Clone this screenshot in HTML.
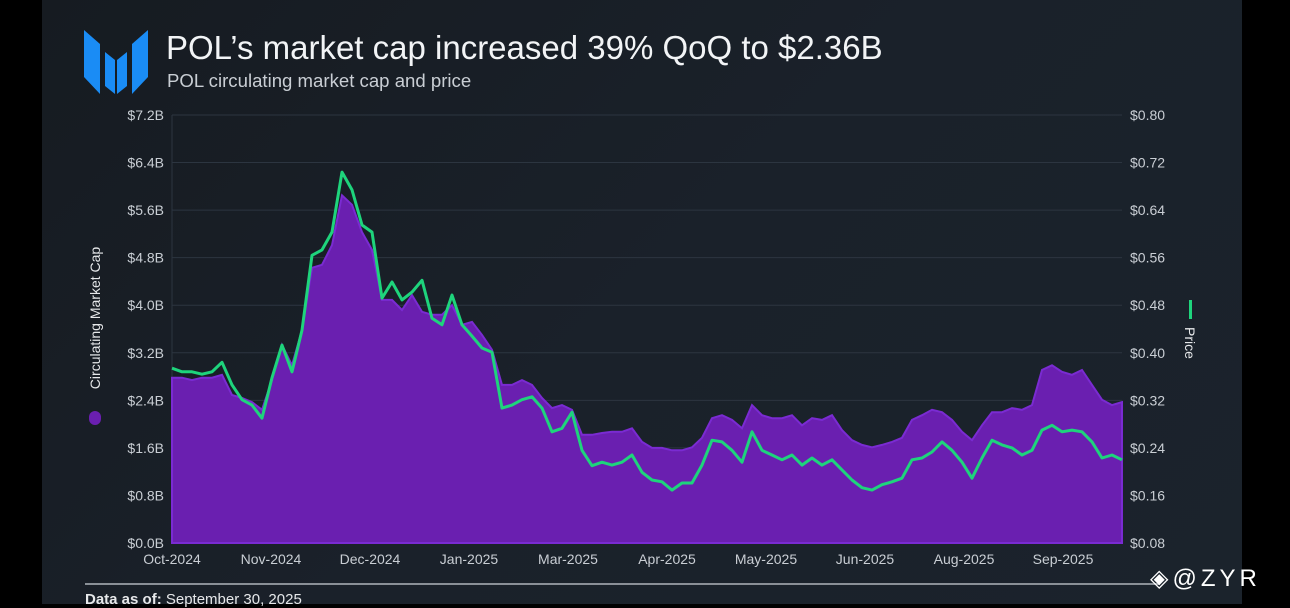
<!DOCTYPE html>
<html><head><meta charset="utf-8">
<style>
html,body{margin:0;padding:0;width:1290px;height:604px;overflow:hidden;background:#000;font-family:"Liberation Sans",sans-serif;}
#panel{position:absolute;left:42px;top:0;width:1200px;height:604px;background:linear-gradient(135deg,#161b21 0%,#1a212a 50%,#1b232c 100%);}
.t{position:absolute;white-space:nowrap;}
</style></head><body>
<div id="panel"></div>
<svg style="position:absolute;left:84px;top:30px" width="66" height="64" viewBox="0 0 66 64">
<polygon points="0,0 16,14 16,64 0,47" fill="#1a8cf5"/>
<polygon points="21,22 31,30 31,64 21,56" fill="#1a8cf5"/>
<polygon points="33,30 43,22 43,56 33,64" fill="#1a8cf5"/>
<polygon points="48,14 64,0 64,47 48,64" fill="#1a8cf5"/>
</svg>
<div class="t" style="left:166px;top:29px;font-size:33px;color:#f2f4f6;">POL’s market cap increased 39% QoQ to $2.36B</div>
<div class="t" style="left:167px;top:70px;font-size:18.6px;color:#c9ced4;">POL circulating market cap and price</div>
<svg id="chart" style="position:absolute;left:0;top:0" width="1290" height="604"></svg>
<div style="position:absolute;left:85px;top:583px;width:1075px;height:2px;background:#8a9097"></div>
<div class="t" style="left:85px;top:591px;font-size:15px;color:#e6e8ea;"><b>Data as of:</b> September 30, 2025</div>
<div class="t" style="left:1150px;top:564px;font-size:24px;color:#fff;letter-spacing:4px;">◈@ZYR</div>
<script>
const months=["Oct-2024","Nov-2024","Dec-2024","Jan-2025","Mar-2025","Apr-2025","May-2025","Jun-2025","Aug-2025","Sep-2025"];
const leftTicks=["$0.0B","$0.8B","$1.6B","$2.4B","$3.2B","$4.0B","$4.8B","$5.6B","$6.4B","$7.2B"];
const rightTicks=["$0.08","$0.16","$0.24","$0.32","$0.40","$0.48","$0.56","$0.64","$0.72","$0.80"];
const mcap=[2.78,2.78,2.74,2.78,2.78,2.83,2.49,2.44,2.37,2.24,2.74,3.33,2.99,3.58,4.63,4.68,5.01,5.85,5.69,5.23,4.93,4.09,4.09,3.92,4.17,3.89,3.84,3.84,4.00,3.67,3.72,3.50,3.25,2.66,2.66,2.74,2.66,2.44,2.27,2.32,2.24,1.82,1.82,1.85,1.87,1.87,1.93,1.70,1.60,1.60,1.56,1.56,1.61,1.77,2.10,2.15,2.07,1.93,2.32,2.15,2.10,2.10,2.15,1.98,2.10,2.07,2.15,1.90,1.73,1.65,1.61,1.65,1.70,1.77,2.07,2.15,2.24,2.20,2.07,1.87,1.73,1.98,2.20,2.20,2.27,2.24,2.32,2.91,2.99,2.88,2.83,2.91,2.66,2.41,2.32,2.37];
const price=[0.374,0.368,0.368,0.364,0.368,0.384,0.346,0.321,0.312,0.290,0.358,0.413,0.368,0.438,0.564,0.573,0.603,0.704,0.674,0.615,0.603,0.492,0.519,0.489,0.502,0.522,0.458,0.447,0.497,0.447,0.428,0.408,0.401,0.307,0.312,0.321,0.326,0.307,0.267,0.273,0.300,0.236,0.210,0.216,0.211,0.216,0.228,0.199,0.186,0.183,0.169,0.181,0.181,0.211,0.253,0.250,0.236,0.216,0.267,0.236,0.228,0.220,0.228,0.211,0.223,0.211,0.220,0.203,0.186,0.173,0.169,0.178,0.183,0.189,0.220,0.223,0.233,0.250,0.236,0.216,0.189,0.223,0.253,0.245,0.240,0.228,0.236,0.270,0.278,0.267,0.270,0.267,0.250,0.223,0.228,0.220];
const NS="http://www.w3.org/2000/svg";
const svg=document.getElementById('chart');
const X0=172,X1=1122,Y0=543,Y1=115;
const xs=i=>X0+(X1-X0)*i/(mcap.length-1);
const yL=v=>Y0-(v/7.2)*(Y0-Y1);
const yR=v=>Y0-((v-0.08)/0.72)*(Y0-Y1);
function mk(tag,attrs){const e=document.createElementNS(NS,tag);for(const k in attrs)e.setAttribute(k,attrs[k]);svg.appendChild(e);return e;}
leftTicks.forEach((t,i)=>{
  const y=Y0-(Y0-Y1)*i/(leftTicks.length-1);
  const g=mk('line',{x1:X0,x2:X1,y1:y,y2:y,stroke:'#2c3540','stroke-width':1});
  
  
  const tl=mk('text',{x:164,y:y+5,'text-anchor':'end',fill:'#c9ced4','font-size':14,'font-family':'Liberation Sans, sans-serif'});
  tl.textContent=t;
  
  
  const tr=mk('text',{x:1130,y:y+5,fill:'#c9ced4','font-size':14,'font-family':'Liberation Sans, sans-serif'});
  tr.textContent=rightTicks[i];
  
  
});
const ax=mk('line',{x1:X0,x2:X0,y1:Y1,y2:Y0,stroke:'#2c3540'});


months.forEach((m,i)=>{
  const t=mk('text',{x:X0+99*i,y:564,'text-anchor':'middle',fill:'#c9ced4','font-size':14,'font-family':'Liberation Sans, sans-serif'});
  t.textContent=m;
  
  
});
let d='M'+X0+','+Y0;
mcap.forEach((v,i)=>{d+=' L'+xs(i).toFixed(1)+','+yL(v).toFixed(1);});
d+=' L'+X1+','+Y0+' Z';
const area=mk('path',{d:d,fill:'#6a1fb0',stroke:'#7a2bd2','stroke-width':2});


let pd='';
price.forEach((v,i)=>{pd+=(i?' L':'M')+xs(i).toFixed(1)+','+yR(v).toFixed(1);});
const line=mk('path',{d:pd,fill:'none',stroke:'#1ed47c','stroke-width':3,'stroke-linejoin':'round'});


const lt=mk('text',{x:0,y:0,transform:'translate(100,318) rotate(-90)','text-anchor':'middle',fill:'#e6e8ea','font-size':14,'font-family':'Liberation Sans, sans-serif'});
lt.textContent='Circulating Market Cap';


const ld=mk('rect',{x:89,y:411,width:12,height:14,rx:6,fill:'#6a1fb0'});


const rt=mk('text',{x:0,y:0,transform:'translate(1185,343) rotate(90)','text-anchor':'middle',fill:'#e6e8ea','font-size':14,'font-family':'Liberation Sans, sans-serif'});
rt.textContent='Price';


const rd=mk('rect',{x:1189,y:300,width:3,height:19,fill:'#1ed47c'});


</script>
</body></html>
